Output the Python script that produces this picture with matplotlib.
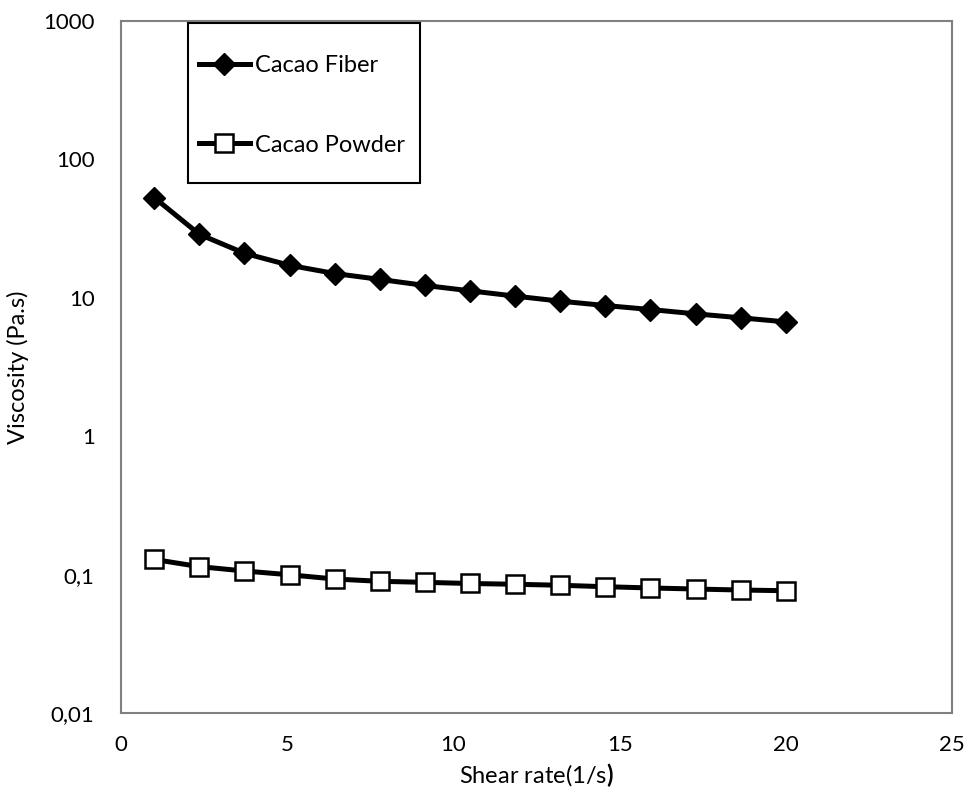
import matplotlib.pyplot as plt
from matplotlib.patches import Rectangle
from matplotlib.ticker import FixedLocator, FixedFormatter

# shear rate (1/s)
shear_rate = [1.0, 2.357, 3.714, 5.071, 6.429, 7.786, 9.143, 10.5,
              11.857, 13.214, 14.571, 15.929, 17.286, 18.643, 20.0]

# viscosity (Pa.s)
fiber = [53.0, 28.8, 21.0, 17.2, 15.0, 13.6, 12.3, 11.25,
         10.3, 9.47, 8.81, 8.24, 7.67, 7.18, 6.71]
powder = [0.129, 0.1145, 0.1065, 0.100, 0.0932, 0.0897, 0.0882, 0.0865,
          0.0854, 0.084, 0.082, 0.0803, 0.0789, 0.0776, 0.0767]

y_ticks = [0.01, 0.1, 1, 10, 100, 1000]
y_labels = ["0,01", "0,1", "1", "10", "100", "1000"]
x_ticks = [0, 5, 10, 15, 20, 25]

plt.rcParams['font.family'] = ['Lato', 'DejaVu Sans']
plt.rcParams['mathtext.fontset'] = 'custom'
plt.rcParams['mathtext.rm'] = 'Lato'
plt.rcParams['mathtext.bf'] = 'Lato:bold'

fig = plt.figure(figsize=(9.68, 7.96), dpi=100)
ax = fig.add_axes([0.125, 0.104, 0.8585, 0.8696])

ax.plot(shear_rate, fiber, color='black', lw=3.6, marker='D', ms=11,
        mfc='black', mec='black', label='Cacao Fiber')
ax.plot(shear_rate, powder, color='black', lw=3.6, marker='s', ms=13,
        mfc='white', mec='black', mew=1.8, label='Cacao Powder')

ax.set_yscale('log')
ax.set_ylim(0.01, 1000)
ax.set_xlim(0, 25)
ax.yaxis.set_major_locator(FixedLocator(y_ticks))
ax.yaxis.set_major_formatter(FixedFormatter(y_labels))
ax.yaxis.set_minor_locator(FixedLocator([]))
ax.set_xticks(x_ticks)
ax.tick_params(length=0, labelsize=16)
ax.tick_params(axis='x', pad=16)
ax.tick_params(axis='y', pad=19)

for sp in ax.spines.values():
    sp.set_color('#808080')
    sp.set_linewidth(1.5)

ax.set_xlabel(r"Shear rate(1/s$\mathbf{)}$", fontsize=17, labelpad=4)
ax.set_ylabel("Viscosity (Pa.s)", fontsize=17, labelpad=10)

# legend box drawn separately so padding can differ horizontally/vertically
ax.add_patch(Rectangle((0.0806, 0.766), 0.2792, 0.2312, transform=ax.transAxes,
                       fill=True, facecolor='white', edgecolor='black',
                       lw=1.5, zorder=4))
leg = ax.legend(loc='upper left', bbox_to_anchor=(0.0939, 0.9508), fontsize=17,
                frameon=False, labelspacing=2.48, handlelength=2.15,
                handletextpad=0.2, borderpad=0, borderaxespad=0)
leg.set_zorder(5)

fig.savefig('out.png', dpi=100)
